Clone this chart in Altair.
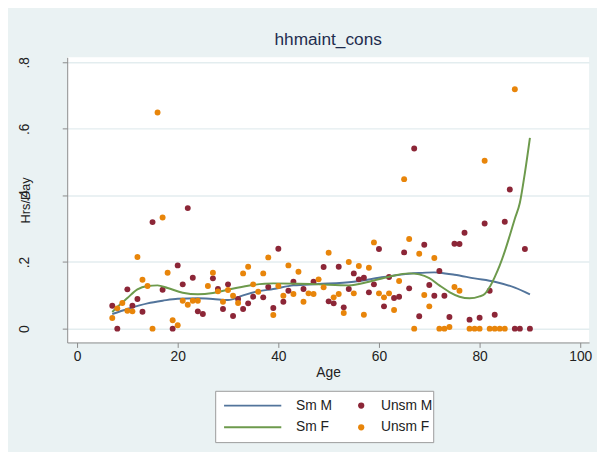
import altair as alt
import pandas as pd

# ---------------- data ----------------
m_age = [7, 8, 10, 11, 12, 13, 15, 17, 19, 20, 21, 22, 23, 24, 25, 27, 28, 29, 30, 31,
         32, 33, 34, 35, 37, 38, 39, 40, 41, 42, 43, 45, 47, 49, 50, 51, 52, 53, 54, 55,
         56, 57, 58, 59, 60, 61, 62, 63, 64, 65, 66, 67, 68, 69, 70, 71, 72, 73, 74, 75,
         76, 77, 78, 80, 81, 82, 83, 85, 86, 87, 88, 89, 90]
m_val = [0.069, 0.0, 0.118, 0.069, 0.089, 0.051, 0.32, 0.117, 0.0, 0.19,
         0.133, 0.362, 0.153, 0.052, 0.044, 0.151, 0.119, 0.059, 0.133, 0.038,
         0.089, 0.059, 0.076, 0.096, 0.094, 0.125, 0.062, 0.24, 0.081, 0.114,
         0.141, 0.119, 0.141, 0.185, 0.082, 0.076, 0.186, 0.064, 0.119, 0.166,
         0.148, 0.153, 0.109, 0.133, 0.239, 0.067, 0.155, 0.092, 0.096, 0.229,
         0.121, 0.541, 0.037, 0.252, 0.131, 0.099, 0.173, 0.099, 0.035, 0.255,
         0.254, 0.288, 0.027, 0.033, 0.316, 0.114, 0.042, 0.321, 0.418, 0.0,
         0.0, 0.239, 0.0]

f_age = [7, 8, 9, 10, 11, 12, 13, 14, 15, 16, 17, 18, 19, 20, 21, 22, 23, 24,
         26, 27, 28, 29, 30, 31, 32, 33, 34, 35, 36, 37, 38, 39, 40, 41, 42, 43, 44, 45,
         46, 47, 48, 49, 50, 51, 52, 53, 54, 55, 56, 57, 58, 59, 60, 61, 62, 63, 64, 65,
         66, 67, 68, 69, 70, 71, 72, 73, 74, 75, 76, 78, 79, 80, 81, 82, 83, 84, 85, 87]
f_val = [0.032, 0.061, 0.077, 0.054, 0.052, 0.215, 0.147, 0.128, 0.0, 0.649,
         0.334, 0.168, 0.025, 0.01, 0.084, 0.072, 0.084, 0.084,
         0.128, 0.168, 0.112, 0.081, 0.116, 0.099, 0.077, 0.166, 0.186, 0.133,
         0.111, 0.166, 0.214, 0.041, 0.128, 0.099, 0.19, 0.104, 0.171, 0.081,
         0.106, 0.104, 0.148, 0.124, 0.228, 0.094, 0.104, 0.047, 0.2, 0.106,
         0.188, 0.042, 0.183, 0.259, 0.106, 0.094, 0.106, 0.056, 0.143, 0.449,
         0.269, 0.0, 0.225, 0.101, 0.067, 0.212, 0.0, 0.0, 0.005, 0.125, 0.114,
         0.0, 0.0, 0.0, 0.504, 0.0, 0.0, 0.0, 0.0, 0.719]

smm_age = [7, 10, 14, 17, 20, 24, 27, 30, 33, 36, 39, 43, 48, 55, 61, 66, 68, 71, 72,
           75, 79, 83, 87, 90]
smm_val = [0.044, 0.059, 0.076, 0.084, 0.090, 0.091, 0.089, 0.086, 0.100, 0.112, 0.119,
           0.130, 0.134, 0.141, 0.155, 0.165, 0.167, 0.169, 0.168, 0.162, 0.151, 0.141,
           0.123, 0.103]

smf_age = [7, 8, 10, 12, 14, 16, 18, 21, 24, 27, 30, 34, 39, 44, 48, 54, 58, 62, 66, 68,
           70, 72, 74, 76, 78, 80, 81, 82, 83, 84, 85, 86, 87, 88, 89, 90]
smf_val = [0.05, 0.065, 0.092, 0.118, 0.128, 0.130, 0.122, 0.108, 0.103, 0.107, 0.117,
           0.129, 0.136, 0.135, 0.133, 0.130, 0.141, 0.156, 0.166, 0.163, 0.152, 0.130,
           0.110, 0.096, 0.091, 0.097, 0.104, 0.125, 0.155, 0.19, 0.232, 0.28, 0.33,
           0.378, 0.468, 0.573]

x_ticks = [0, 20, 40, 60, 80, 100]
y_ticks = [0, 0.2, 0.4, 0.6, 0.8]
line_names = ["Sm M", "Sm F"]
point_names = ["Unsm M", "Unsm F"]

# ---------------- styling ----------------
FONT = "Liberation Sans"
BLUE = "#52749b"
GREEN = "#6d9a4c"
MAROON = "#8c2637"
ORANGE = "#e8850a"
BG = "#eaf2f3"
TXT = "#222222"

pts_m = pd.DataFrame({"age": m_age, "val": m_val, "unsm": point_names[0]})
pts_f = pd.DataFrame({"age": f_age, "val": f_val, "unsm": point_names[1]})
sm_m = pd.DataFrame({"age": smm_age, "val": smm_val, "sm": line_names[0]})
sm_f = pd.DataFrame({"age": smf_age, "val": smf_val, "sm": line_names[1]})

x_enc = alt.X(
    "age:Q",
    scale=alt.Scale(domain=[-1.96, 101.76], nice=False, zero=False),
    axis=alt.Axis(values=x_ticks, title="Age", grid=False, tickSize=5,
                  domainColor="#8a8a8a", tickColor="#8a8a8a", labelFont=FONT,
                  labelFontSize=14, labelColor=TXT, labelPadding=2, titleFont=FONT,
                  titleFontSize=14, titleFontWeight="normal", titleColor=TXT,
                  titlePadding=3, labelBound=False, labelOverlap=False),
)
y_enc = alt.Y(
    "val:Q",
    scale=alt.Scale(domain=[-0.0415, 0.8148], nice=False, zero=False),
    axis=alt.Axis(values=y_ticks,
                  labelExpr="datum.value == 0 ? '0' : '.' + round(datum.value * 10)",
                  labelAngle=270, labelAlign="center", labelBaseline="middle",
                  title="Hrs/Day", grid=True, gridColor="#e3edef", gridWidth=1.5,
                  tickSize=5, domainColor="#8a8a8a", tickColor="#8a8a8a",
                  labelFont=FONT, labelFontSize=14, labelColor=TXT, labelPadding=38,
                  titleFont=FONT, titleFontSize=13, titleFontWeight="normal",
                  titleColor=TXT, titleX=-35),
)

stroke_scale = alt.Scale(domain=line_names, range=[BLUE, GREEN])
color_scale = alt.Scale(domain=point_names, range=[MAROON, ORANGE])

line_legend = alt.Legend(
    title=" ", titleOrient="right", titlePadding=94, titleFontSize=14,
    orient="none", legendX=150, legendY=338, symbolType="stroke",
    symbolSize=3364, symbolStrokeWidth=2, clipHeight=14, labelOffset=14,
    labelFont=FONT, labelFontSize=14, labelColor=TXT, rowPadding=8, padding=8,
    fillColor="white", strokeColor="#9a9a9a",
)
pt_legend = alt.Legend(
    title=None, orient="none", legendX=291, legendY=346, symbolType="circle",
    symbolSize=40, clipHeight=14, labelOffset=13, labelFont=FONT, labelFontSize=14,
    labelColor=TXT, rowPadding=8, padding=0,
)

line_m = alt.Chart(sm_m).mark_line(strokeWidth=2, interpolate="monotone").encode(
    x=x_enc, y=y_enc, stroke=alt.Stroke("sm:N", scale=stroke_scale, legend=line_legend))
line_f = alt.Chart(sm_f).mark_line(strokeWidth=2, interpolate="monotone").encode(
    x=x_enc, y=y_enc, stroke=alt.Stroke("sm:N", scale=stroke_scale, legend=line_legend))
dots_m = alt.Chart(pts_m).mark_circle(size=36, opacity=1).encode(
    x=x_enc, y=y_enc, color=alt.Color("unsm:N", scale=color_scale, legend=pt_legend))
dots_f = alt.Chart(pts_f).mark_circle(size=36, opacity=1).encode(
    x=x_enc, y=y_enc, color=alt.Color("unsm:N", scale=color_scale, legend=pt_legend))

chart = alt.layer(line_m, dots_m, line_f, dots_f).properties(
    width=529, height=289,
    title=alt.TitleParams("hhmaint_cons", font=FONT, fontSize=17.5, fontWeight="normal",
                          color="#1f2d4e", anchor="middle", offset=8),
    autosize=alt.AutoSizeParams(type="none"),
    padding={"left": 60, "top": 47, "right": 8, "bottom": 108},
).configure(background=BG).configure_view(fill="white", strokeWidth=0)

chart.save("out.html", embed_options={"renderer": "svg", "actions": False})
